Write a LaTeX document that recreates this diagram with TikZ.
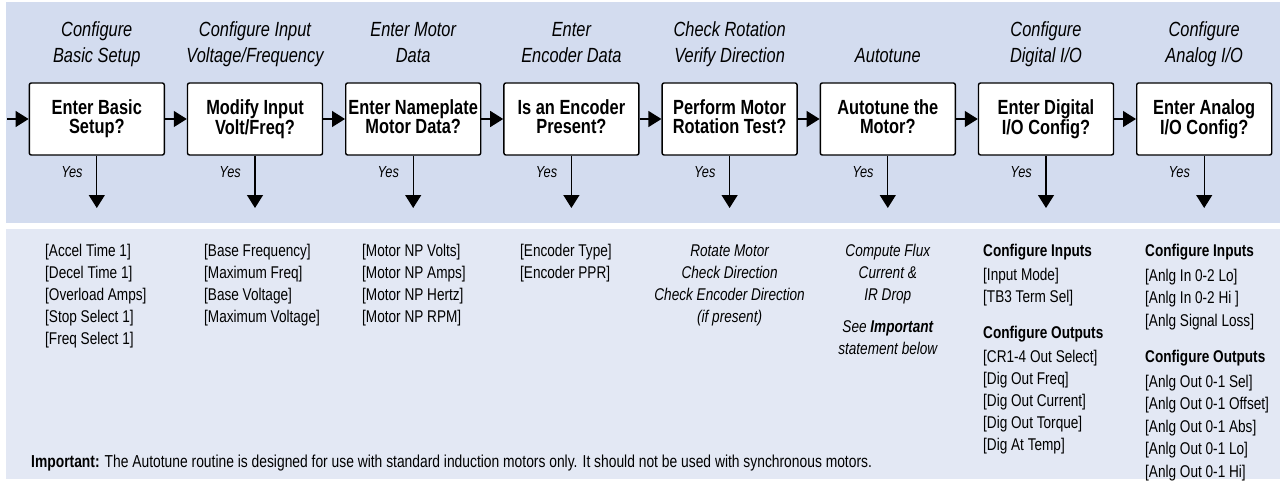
\documentclass[tikz,border=0pt]{standalone}
\usepackage{fontspec}
\setmainfont{Liberation Sans}[FakeStretch=0.8]
\usetikzlibrary{arrows.meta}
\definecolor{topband}{HTML}{D3DCEF}
\definecolor{botband}{HTML}{E3E8F4}
\begin{document}
\begin{tikzpicture}[x=1pt,y=-1pt,
  stepbox/.style={draw, line width=1.4pt, fill=white, rounded corners=2pt,
    minimum width=135pt, minimum height=72pt, inner sep=0pt, align=center,
    font=\bfseries\fontsize{20.5}{19}\selectfont},
  heading/.style={anchor=south, align=center, inner sep=0pt,
    font=\itshape\fontsize{20.5}{26}\selectfont},
  yes/.style={anchor=east, inner sep=0pt, font=\itshape\fontsize{16}{19}\selectfont},
  flow/.style={line width=1.3pt, -{Triangle[length=13pt,width=16pt]}},
  col/.style={anchor=north west, align=left, inner sep=0pt,
    font=\fontsize{17}{22}\selectfont},
  ccol/.style={anchor=north, align=center, inner sep=0pt,
    font=\itshape\fontsize{17}{22}\selectfont},
]
\useasboundingbox (0,0) rectangle (1280,484);
\fill[white] (0,0) rectangle (1280,484);
\fill[topband] (6,2) rectangle (1280,222.5);
\fill[botband] (6,229) rectangle (1280,479);

% headings
\node[heading] (h1) at (96.8,71) {Configure\\Basic Setup\strut};
\node[heading] (h2) at (255.0,71) {Configure Input\\Voltage/Frequency\strut};
\node[heading] (h3) at (413.2,71) {Enter Motor\\Data\strut};
\node[heading] (h4) at (571.4,71) {Enter\\Encoder Data\strut};
\node[heading] (h5) at (729.6,71) {Check Rotation\\Verify Direction\strut};
\node[heading] (h6) at (887.8,71) {Autotune\strut};
\node[heading] (h7) at (1046.0,71) {Configure\\Digital I/O\strut};
\node[heading] (h8) at (1204.2,71) {Configure\\Analog I/O\strut};

% boxes
\node[stepbox] (b1) at (96.8,119) {Enter Basic\\Setup?\vphantom{p}};
\node[stepbox] (b2) at (255.0,119) {Modify Input\\Volt/Freq?\vphantom{p}};
\node[stepbox] (b3) at (413.2,119) {Enter Nameplate\\Motor Data?\vphantom{p}};
\node[stepbox] (b4) at (571.4,119) {Is an Encoder\\Present?\vphantom{p}};
\node[stepbox] (b5) at (729.6,119) {Perform Motor\\Rotation Test?\vphantom{p}};
\node[stepbox] (b6) at (887.8,119) {Autotune the\\Motor?\vphantom{p}};
\node[stepbox] (b7) at (1046.0,119) {Enter Digital\\I/O Config?\vphantom{p}};
\node[stepbox] (b8) at (1204.2,119) {Enter Analog\\I/O Config?\vphantom{p}};

% horizontal flow
\coordinate (start) at (7,119);
\draw[flow] (start) -- (b1.west);
\draw[flow] (b1.east) -- (b2.west);
\draw[flow] (b2.east) -- (b3.west);
\draw[flow] (b3.east) -- (b4.west);
\draw[flow] (b4.east) -- (b5.west);
\draw[flow] (b5.east) -- (b6.west);
\draw[flow] (b6.east) -- (b7.west);
\draw[flow] (b7.east) -- (b8.west);

% yes arrows
\coordinate (d1) at (96.8,208);
\coordinate (d2) at (255.0,208);
\coordinate (d3) at (413.2,208);
\coordinate (d4) at (571.4,208);
\coordinate (d5) at (729.6,208);
\coordinate (d6) at (887.8,208);
\coordinate (d7) at (1046.0,208);
\coordinate (d8) at (1204.2,208);
\draw[flow] (b1.south) -- (d1);
\draw[flow] (b2.south) -- (d2);
\draw[flow] (b3.south) -- (d3);
\draw[flow] (b4.south) -- (d4);
\draw[flow] (b5.south) -- (d5);
\draw[flow] (b6.south) -- (d6);
\draw[flow] (b7.south) -- (d7);
\draw[flow] (b8.south) -- (d8);
\node[yes] (y1) at (82.8,172.5) {Yes};
\node[yes] (y2) at (241.0,172.5) {Yes};
\node[yes] (y3) at (399.2,172.5) {Yes};
\node[yes] (y4) at (557.4,172.5) {Yes};
\node[yes] (y5) at (715.6,172.5) {Yes};
\node[yes] (y6) at (873.8,172.5) {Yes};
\node[yes] (y7) at (1032.0,172.5) {Yes};
\node[yes] (y8) at (1190.2,172.5) {Yes};

% parameter lists
\node[col] (c1) at (45,240.6) {\strut[Accel Time 1]\\{}[Decel Time 1]\\{}[Overload Amps]\\{}[Stop Select 1]\\{}[Freq Select 1]};
\node[col] (c2) at (204,240.6) {\strut[Base Frequency]\\{}[Maximum Freq]\\{}[Base Voltage]\\{}[Maximum Voltage]};
\node[col] (c3) at (362,240.6) {\strut[Motor NP Volts]\\{}[Motor NP Amps]\\{}[Motor NP Hertz]\\{}[Motor NP RPM]};
\node[col] (c4) at (520,240.6) {\strut[Encoder Type]\\{}[Encoder PPR]};
\node[ccol] (c5) at (729.6,240.6) {\strut Rotate Motor\\Check Direction\\Check Encoder Direction\\(if present)};
\node[ccol] (c6) at (887.8,240.6) {\strut Compute Flux\\Current \&\\IR Drop\\[10pt]See \textbf{Important}\\statement below};
\node[col] (c7) at (983,240.6) {\strut\textbf{Configure Inputs}\\[2pt]{}[Input Mode]\\{}[TB3 Term Sel]\\[14pt]\textbf{Configure Outputs}\\[2pt]{}[CR1-4 Out Select]\\{}[Dig Out Freq]\\{}[Dig Out Current]\\{}[Dig Out Torque]\\{}[Dig At Temp]};
\node[col, font=\fontsize{17}{22.5}\selectfont] (c8) at (1145,240.6) {\strut\textbf{Configure Inputs}\\[2pt]{}[Anlg In 0-2 Lo]\\{}[Anlg In 0-2 Hi ]\\{}[Anlg Signal Loss]\\[14pt]\textbf{Configure Outputs}\\[2pt]{}[Anlg Out 0-1 Sel]\\{}[Anlg Out 0-1 Offset]\\{}[Anlg Out 0-1 Abs]\\{}[Anlg Out 0-1 Lo]\\{}[Anlg Out 0-1 Hi]};

\node[anchor=base west, inner sep=0pt, font=\fontsize{17.3}{22}\selectfont] (imp) at (31,467)
  {\textbf{Important:} The Autotune routine is designed for use with standard induction motors only. It should not be used with synchronous motors.};
\end{tikzpicture}
\end{document}
